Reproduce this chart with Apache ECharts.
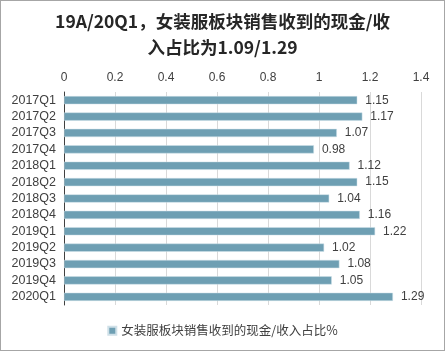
<!DOCTYPE html>
<html><head><meta charset="utf-8">
<script src="https://cdn.jsdelivr.net/npm/echarts@6/dist/echarts.min.js"></script>
<style>
html,body{margin:0;padding:0;background:#fff;}
#c{width:443px;height:349px;border:1px solid #a6a6a6;}
</style></head>
<body><div id="c"></div>
<script>
var categories = ['2017Q1','2017Q2','2017Q3','2017Q4','2018Q1','2018Q2','2018Q3','2018Q4','2019Q1','2019Q2','2019Q3','2019Q4','2020Q1'];
var values = [1.15,1.17,1.07,0.98,1.12,1.15,1.04,1.16,1.22,1.02,1.08,1.05,1.29];
var seriesName = '女装服板块销售收到的现金/收入占比%';
var titleText = '19A/20Q1，女装服板块销售收到的现金/收\n入占比为1.09/1.29';

var chart = echarts.init(document.getElementById('c'));
chart.setOption({
  animation:false,
  title:{text:titleText,left:'center',top:2,
    textStyle:{fontSize:17.5,fontWeight:'bold',color:'#262626',lineHeight:26,fontFamily:'Noto Sans CJK SC'}},
  legend:{bottom:8,left:'center',itemWidth:8,itemHeight:8,icon:'rect',
    textStyle:{fontSize:12.5,color:'#404040',fontFamily:'Noto Sans CJK SC'}},
  grid:{left:63,right:23,top:91,bottom:45},
  xAxis:{type:'value',position:'top',min:0,max:1.4,interval:0.2,
    axisLine:{show:false},axisTick:{show:false},
    axisLabel:{fontSize:12,color:'#404040',margin:8,fontFamily:'Liberation Sans'},
    splitLine:{lineStyle:{color:'#d9d9d9'}}},
  yAxis:{type:'category',data:categories,inverse:true,
    axisLine:{lineStyle:{color:'#404040'}},
    axisTick:{show:false},
    axisLabel:{interval:0,fontSize:12.5,color:'#404040',margin:8,fontFamily:'Liberation Sans'}},
  series:[{name:seriesName,type:'bar',data:values,barWidth:'50%',
    itemStyle:{color:'#6e9fb3',borderColor:'#cfe0e8',borderWidth:0.5},
    label:{show:true,position:'right',distance:8,fontSize:12,color:'#404040',fontFamily:'Liberation Sans'}}]
});
</script></body></html>
